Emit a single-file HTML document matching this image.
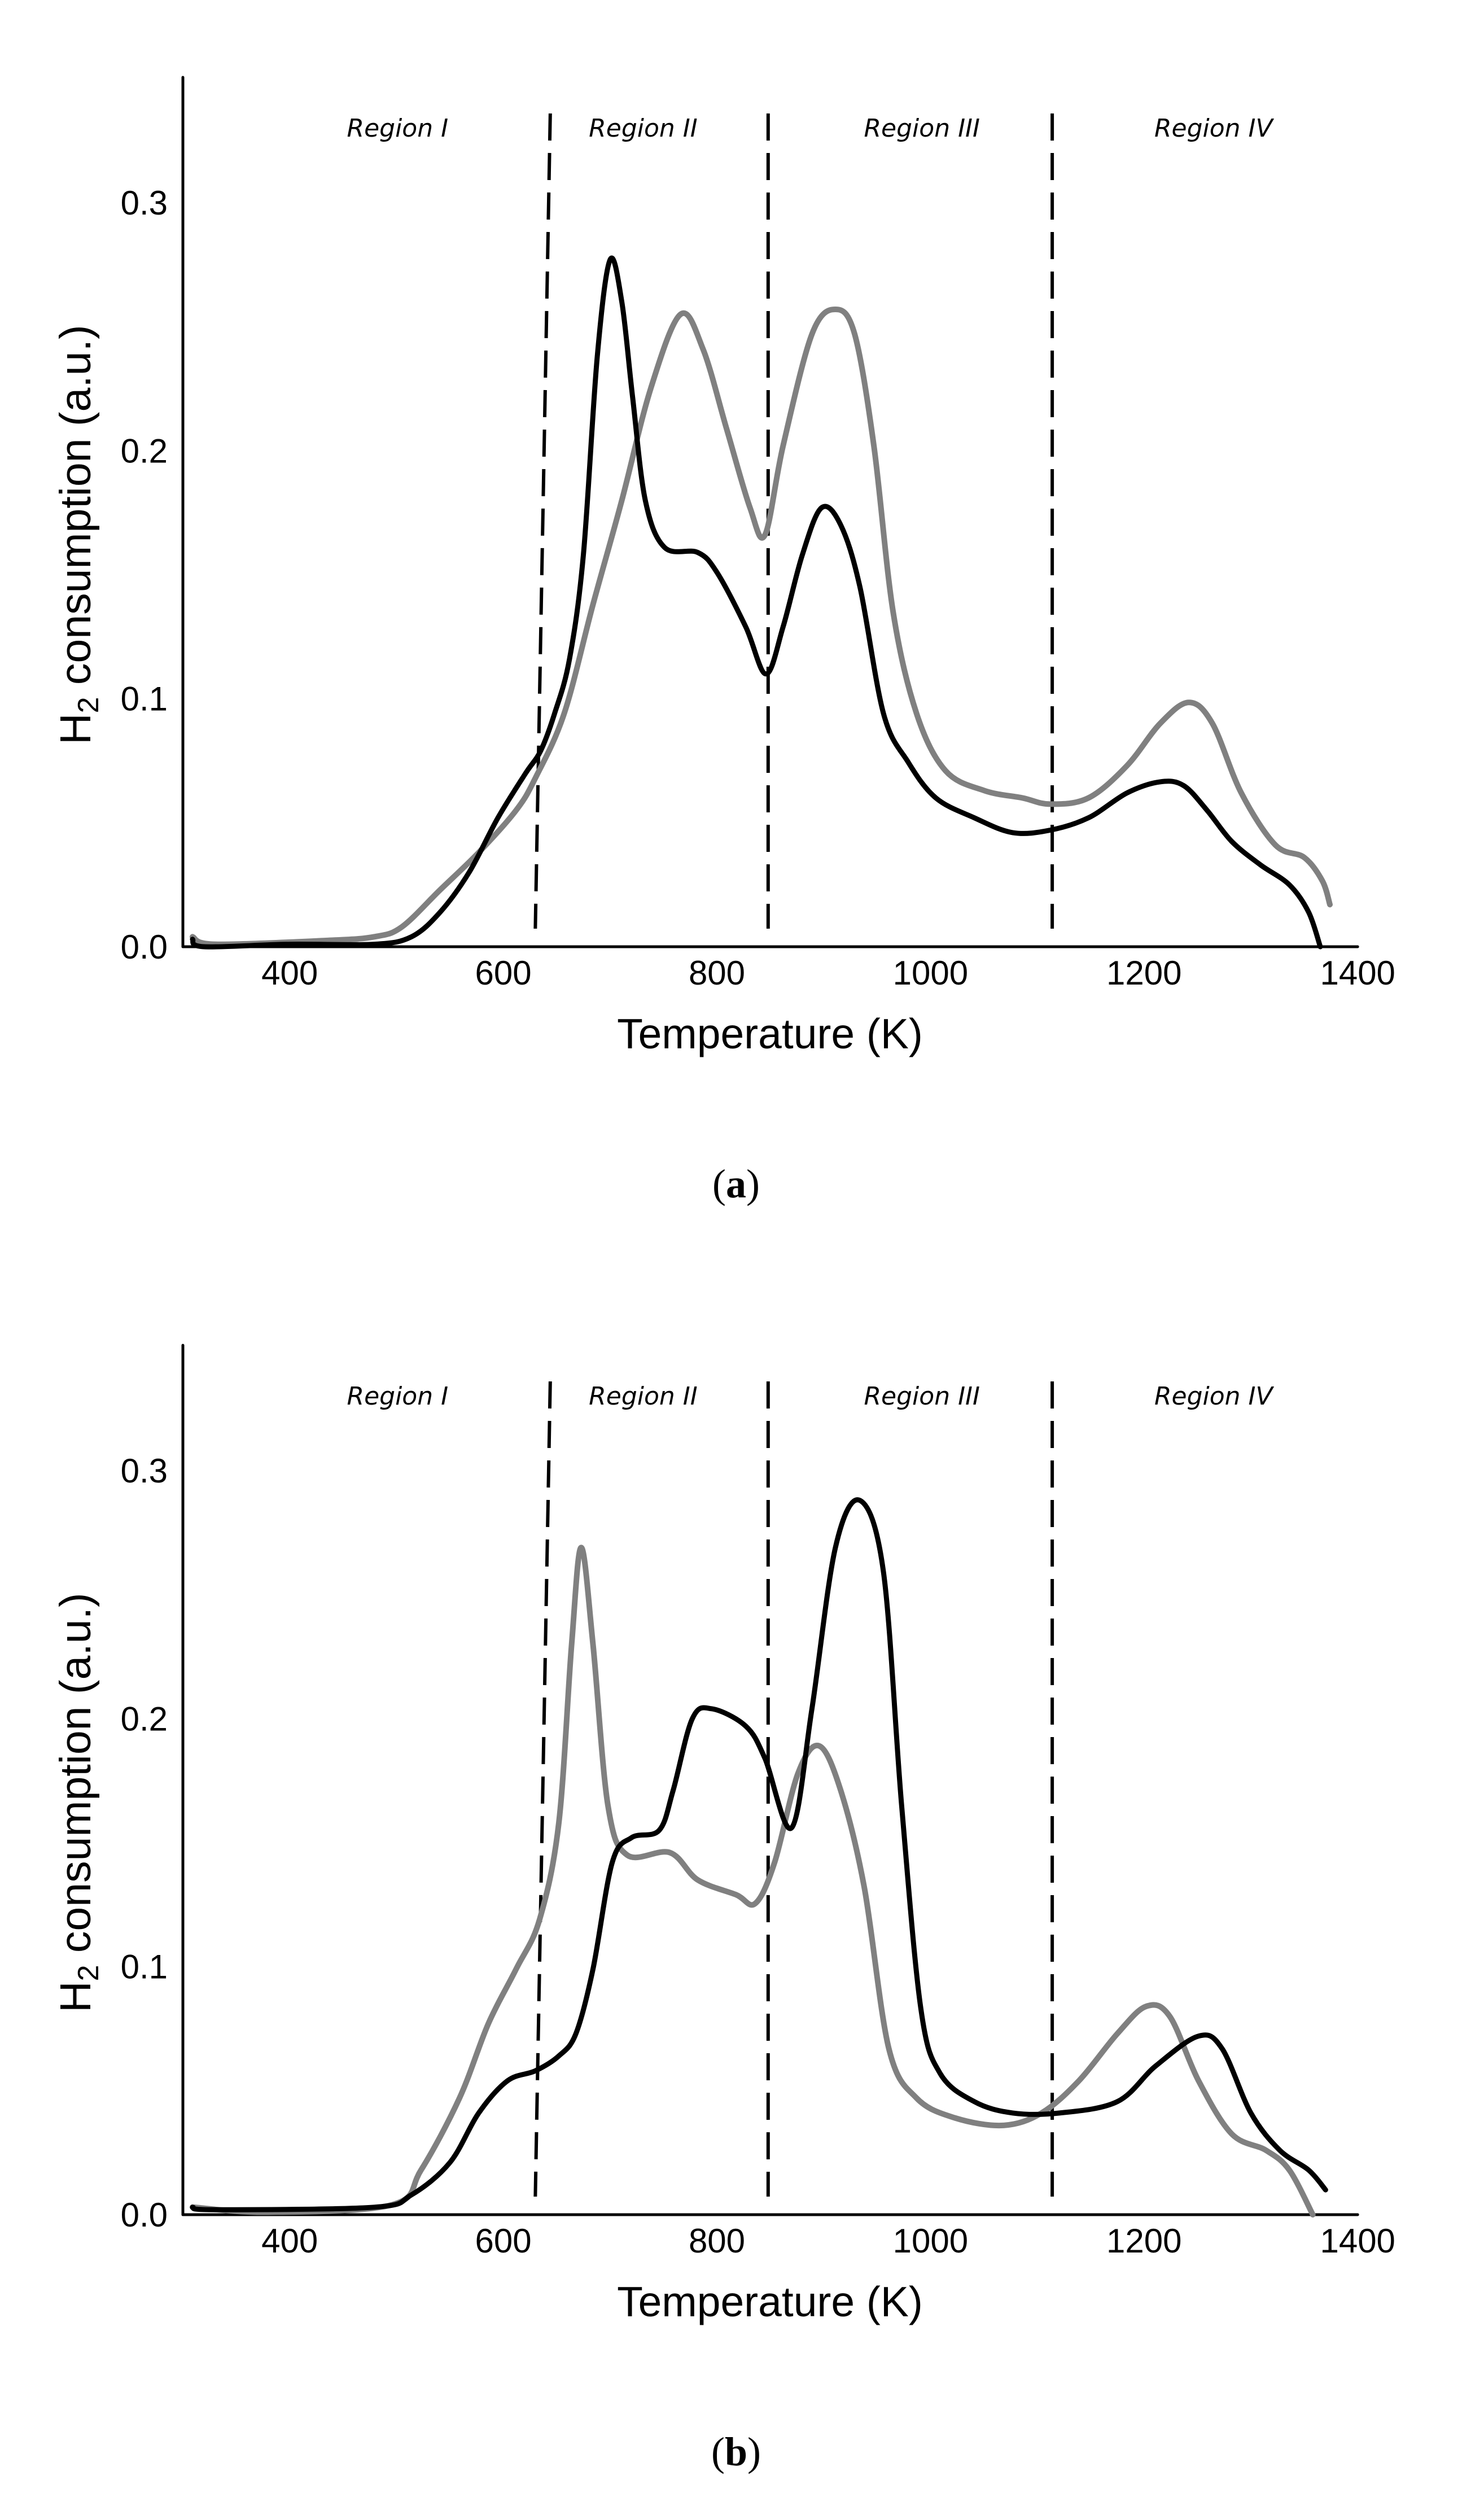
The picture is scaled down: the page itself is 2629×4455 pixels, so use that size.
<!DOCTYPE html>
<html><head><meta charset="utf-8"><title>H2 TPR profiles</title>
<style>
html,body{margin:0;padding:0;background:#fff;}
svg{display:block;}
text{font-family:"Liberation Sans",Arial,sans-serif;fill:#000;}
.reg{font-family:"DejaVu Sans","Liberation Sans",sans-serif;font-style:italic;font-size:44px;}
.tick{font-size:60px;}
.cap{font-family:"Liberation Serif",serif;font-size:72px;}
</style></head>
<body>
<svg id="fig" width="2629" height="4455" viewBox="0 0 2629 4455" xmlns="http://www.w3.org/2000/svg"></svg>
<script>
// ---- data ----
const xTicks = [400, 600, 800, 1000, 1200, 1400];
const yTicks = [0.0, 0.1, 0.2, 0.3];
const yTickLabels = ["0.0", "0.1", "0.2", "0.3"];
const regionNames = ["Region I", "Region II", "Region III", "Region IV"];
const regionCenters = [501, 731, 992, 1265];
const boundariesTop = [644, 848, 1114];
const boundariesBottom = [630, 848, 1114];

const aBlackT = [309,320,400,479,514,541,568,595,621,635,648,662,675,688,700,711,721,733,751,782,800,827,846,862,880,898,916,934,956,979,1005,1041,1077,1112,1148,1184,1215,1237,1259,1282,1309,1336,1354,1365];
const aBlackV = [0.003,0.0,0.001,0.001,0.004,0.014,0.03,0.052,0.07,0.079,0.094,0.116,0.158,0.238,0.277,0.26,0.222,0.18,0.161,0.159,0.151,0.129,0.11,0.129,0.158,0.177,0.17,0.145,0.094,0.0745,0.06,0.052,0.046,0.047,0.052,0.062,0.0665,0.065,0.055,0.0425,0.033,0.025,0.014,0.0];
const aGreyT = [309,330,434,479,505,541,577,612,630,657,684,711,738,766,787,809,831,845,862,889,911,929,947,965,987,1014,1050,1086,1112,1148,1184,1215,1242,1264,1291,1323,1350,1367,1374];
const aGreyV = [0.004,0.001,0.0025,0.004,0.008,0.023,0.038,0.055,0.068,0.094,0.138,0.18,0.225,0.255,0.241,0.209,0.177,0.166,0.202,0.247,0.257,0.247,0.202,0.135,0.094,0.071,0.063,0.06,0.0575,0.06,0.073,0.09,0.0985,0.09,0.062,0.041,0.036,0.0265,0.017];

const bBlackT = [309,330,479,514,550,577,604,630,652,668,684,702,720,746,759,777,795,827,845,870,889,911,934,956,973,991,1009,1041,1077,1121,1175,1211,1251,1273,1300,1327,1354,1370];
const bBlackV = [0.003,0.002,0.003,0.008,0.021,0.041,0.054,0.058,0.064,0.073,0.099,0.142,0.152,0.155,0.171,0.2,0.204,0.197,0.184,0.156,0.204,0.269,0.288,0.259,0.165,0.083,0.057,0.0456,0.041,0.041,0.0456,0.06,0.072,0.067,0.041,0.026,0.018,0.01];
const bGreyT = [309,380,496,523,559,586,612,634,652,664,673,684,698,716,756,782,818,836,854,876,896,916,938,961,987,1023,1068,1104,1139,1175,1202,1224,1251,1282,1314,1336,1358];
const bGreyV = [0.003,0.001,0.004,0.018,0.047,0.077,0.099,0.119,0.158,0.23,0.269,0.23,0.165,0.145,0.146,0.135,0.129,0.1255,0.142,0.178,0.189,0.171,0.132,0.067,0.047,0.039,0.036,0.041,0.054,0.073,0.084,0.08,0.054,0.0326,0.026,0.018,0.0];

const panels = [
  {id:"a", base:1677, blackT:aBlackT, blackV:aBlackV, greyT:aGreyT, greyV:aGreyV},
  {id:"b", base:3923, blackT:bBlackT, blackV:bBlackV, greyT:bGreyT, greyV:bGreyV}
];

// ---- drawing ----
const NS = "http://www.w3.org/2000/svg";
const svg = document.getElementById("fig");
const X0 = 324, PXK = 1.892, PXV = 4393;
function xs(k){ return X0 + (k - 300) * PXK; }
function mk(tag, attrs, parent){
  const e = document.createElementNS(NS, tag);
  for (const k in attrs) e.setAttribute(k, attrs[k]);
  (parent || svg).appendChild(e);
  return e;
}
function smoothPath(pts){
  let d = "M" + pts[0][0].toFixed(1) + "," + pts[0][1].toFixed(1);
  for (let i = 0; i < pts.length - 1; i++){
    const p0 = pts[Math.max(0,i-1)], p1 = pts[i], p2 = pts[i+1], p3 = pts[Math.min(pts.length-1,i+2)];
    const c1x = p1[0] + (p2[0]-p0[0])/6, c1y = p1[1] + (p2[1]-p0[1])/6;
    const c2x = p2[0] - (p3[0]-p1[0])/6, c2y = p2[1] - (p3[1]-p1[1])/6;
    d += " C" + c1x.toFixed(1) + "," + c1y.toFixed(1) + " " + c2x.toFixed(1) + "," + c2y.toFixed(1) + " " + p2[0].toFixed(1) + "," + p2[1].toFixed(1);
  }
  return d;
}

panels.forEach(function(p){
  const base = p.base;
  const ys = function(v){ return base - v * PXV; };
  const g = mk("g", {});
  
  

  const ya = mk("line", {x1:X0, y1:base - 1540, x2:X0, y2:base, stroke:"#000", "stroke-width":5, "stroke-linecap":"round"}, g);
  
  
  const xa = mk("line", {x1:X0, y1:base, x2:xs(1400), y2:base, stroke:"#000", "stroke-width":5, "stroke-linecap":"round"}, g);
  
  

  xTicks.forEach(function(t){
    const tx = mk("text", {x:xs(t), y:base + 67, "text-anchor":"middle", class:"tick"}, g);
    tx.textContent = String(t);
    
    
  });
  yTicks.forEach(function(v, i){
    const ty = mk("text", {x:297, y:ys(v) + 21, "text-anchor":"end", class:"tick"}, g);
    ty.textContent = yTickLabels[i];
    
    
  });

  const yt = mk("text", {x:0, y:0, "font-size":77, transform:"translate(160," + (base - 358) + ") rotate(-90)"}, g);
  yt.innerHTML = 'H<tspan font-size="52" dy="14">2</tspan><tspan dy="-14"> consumption (a.u.)</tspan>';
  
  
  const xt = mk("text", {x:1364, y:base + 180, "text-anchor":"middle", "font-size":75}, g);
  xt.textContent = "Temperature (K)";
  
  

  boundariesTop.forEach(function(kt, i){
    const dl = mk("line", {x1:xs(kt), y1:base - 1476, x2:xs(boundariesBottom[i]), y2:base - 32, stroke:"#000", "stroke-width":6, "stroke-dasharray":"48 22"}, g);
    
    
  });
  regionNames.forEach(function(n, i){
    const rt = mk("text", {x:xs(regionCenters[i]), y:base - 1435, "text-anchor":"middle", class:"reg"}, g);
    rt.textContent = n;
    
    
  });

  const gp = p.greyT.map(function(t, i){ return [xs(t), ys(p.greyV[i])]; });
  const gl = mk("path", {d:smoothPath(gp), fill:"none", stroke:"#808080", "stroke-width":10, "stroke-linejoin":"round", "stroke-linecap":"round"}, g);
  
  
  const bp = p.blackT.map(function(t, i){ return [xs(t), ys(p.blackV[i])]; });
  const bl = mk("path", {d:smoothPath(bp), fill:"none", stroke:"#000", "stroke-width":9, "stroke-linejoin":"round", "stroke-linecap":"round"}, g);
  
  

  const cp = mk("text", {x:1304, y:base + 444, "text-anchor":"middle", class:"cap"}, g);
  cp.innerHTML = '(<tspan font-weight="bold">' + p.id + '</tspan>)';
  
  
});
</script>
</body></html>
